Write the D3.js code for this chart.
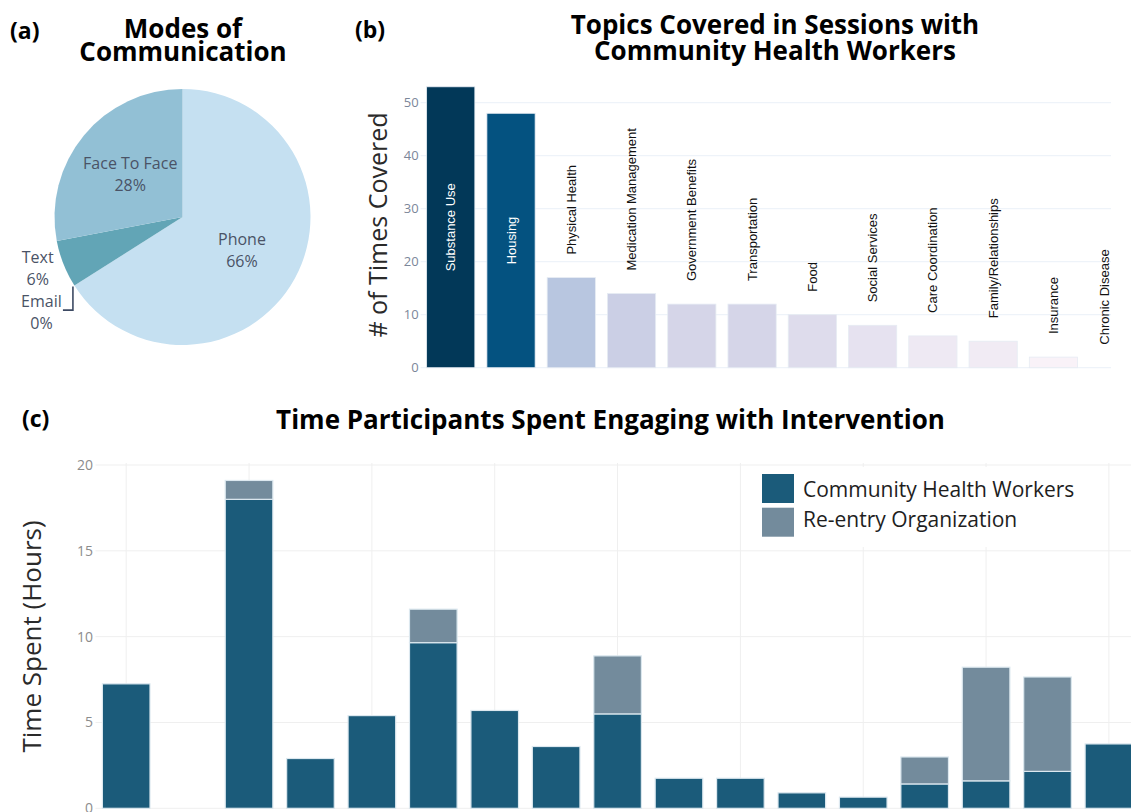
<!DOCTYPE html>
<html><head><meta charset="utf-8">
<script src="https://cdn.jsdelivr.net/npm/d3@7"></script>
<style>html,body{margin:0;padding:0;background:#fff;} svg{display:block;font-family:"Open Sans",sans-serif;}</style>
</head><body><svg id="chart" width="1131" height="812"></svg>
<script>
// ---------- DATA ----------
const pieLabels = ["Phone", "Email", "Text", "Face To Face"];
const pieValues = [66, 0, 6, 28];

const topics = ["Substance Use", "Housing", "Physical Health", "Medication Management",
  "Government Benefits", "Transportation", "Food", "Social Services", "Care Coordination",
  "Family/Relationships", "Insurance", "Chronic Disease"];
const topicCounts = [53, 48, 17, 14, 12, 12, 10, 8, 6, 5, 2, 0];
const topicTicks = [0, 10, 20, 30, 40, 50];

const participants = ["1","2","3","4","5","6","7","8","9","10","11","12","13","14","15","16","17"];
const chwHours =     [7.25, 0, 18, 2.9, 5.4, 9.65, 5.7, 3.6, 5.5, 1.75, 1.75, 0.9, 0.65, 1.42, 1.6, 2.15, 3.75];
const reentryHours = [0, 0, 1.1, 0, 0, 1.95, 0, 0, 3.38, 0, 0, 0, 0, 1.57, 6.62, 5.5, 0];
const seriesNames = ["Community Health Workers", "Re-entry Organization"];
const hourTicks = [0, 5, 10, 15, 20];

// ---------- STYLE ----------
const pieColors = ["#c5e0f1", "#5f9fb0", "#62a5b6", "#92c0d5"];
const pubuStops = ["#fff7fb","#ece7f2","#d0d1e6","#a6bddb","#74a9cf","#3690c0","#0570b0","#045a8d","#023858"];
const seriesColors = ["#1b5b7a", "#738b9c"];

const svg = d3.select("#chart");
svg.append("rect").attr("width", 1131).attr("height", 812).attr("fill", "#fff");

function panelLabel(t, x, y) {
  svg.append("text").attr("x", x).attr("y", y).attr("font-size", 23).attr("font-weight", 700)
    .attr("fill", "#000").text(t);
}
function title(lines, cx, y0, lh, fs) {
  lines.forEach((l, i) => svg.append("text").attr("text-anchor", "middle").attr("font-size", fs)
    .attr("font-weight", 700).attr("fill", "#000").attr("x", cx).attr("y", y0 + i * lh).text(l));
}

// ---------- PANEL A: PIE ----------
panelLabel("(a)", 10, 39);
title(["Modes of", "Communication"], 183, 37.5, 23.5, 26);
const cx = 182.5, cy = 217, R = 128;
const pieData = pieLabels.map((l, i) => ({ label: l, v: pieValues[i], c: pieColors[i] }));
const arcs = d3.pie().sort(null).value(d => d.v)(pieData);
const arcGen = d3.arc().innerRadius(0).outerRadius(R);
const gA = svg.append("g").attr("transform", `translate(${cx},${cy})`);
gA.selectAll("path").data(arcs).join("path").attr("d", arcGen).attr("fill", d => d.data.c);

const labColor = "#4a5366";
function twoLine(g, x, y, a, b) {
  const t = g.append("text").attr("text-anchor", "middle").attr("font-size", 16).attr("fill", labColor);
  t.append("tspan").attr("x", x).attr("y", y - 11 + 6).text(a);
  t.append("tspan").attr("x", x).attr("y", y + 11 + 6).text(b);
}
const polar = (r, a) => [r * Math.sin(a), -r * Math.cos(a)];
arcs.forEach(d => {
  const mid = (d.startAngle + d.endAngle) / 2;
  const pct = d.data.v + "%";
  if (d.data.v >= 20) {
    const [x, y] = polar(R * 0.53, mid);
    twoLine(gA, x, y, d.data.label, pct);
  } else if (d.data.v > 0) {
    const [x, y] = polar(R * 1.2, mid);
    twoLine(gA, x - 2, y - 6, d.data.label, pct);
  } else {
    const [ax, ay] = polar(R, d.startAngle);
    twoLine(gA, ax - 33, ay + 26, d.data.label, pct);
    gA.append("path")
      .attr("d", `M${ax - 1.5},${ay + 1} V${ay + 24.5} H${ax - 11.5}`)
      .attr("fill", "none").attr("stroke", "#3d4a63").attr("stroke-width", 1.6);
  }
});

// ---------- PANEL B: TOPICS ----------
panelLabel("(b)", 355, 38);
title(["Topics Covered in Sessions with", "Community Health Workers"], 775, 33.5, 26, 26);
const bLeft = 420.6, bRight = 1111;
const xb = d3.scaleBand().domain(topics).range([bLeft, bLeft + 12 * 60.27]).paddingInner(0.2).paddingOuter(0.1);
const yb = d3.scaleLinear().domain([0, 55]).range([367.7, 76.2]);
const colorB = d3.scaleLinear()
  .domain(pubuStops.map((_, i) => i / (pubuStops.length - 1) * d3.max(topicCounts)))
  .range(pubuStops).interpolate(d3.interpolateRgb);
const gB = svg.append("g");
gB.selectAll("line.grid").data(topicTicks).join("line")
  .attr("x1", bLeft).attr("x2", bRight).attr("y1", d => yb(d)).attr("y2", d => yb(d))
  .attr("stroke", "#ebf0f8").attr("stroke-width", 1);
gB.selectAll("text.tick").data(topicTicks).join("text")
  .attr("x", bLeft - 2).attr("y", d => yb(d) + 4.5).attr("text-anchor", "end")
  .attr("font-size", 13).attr("fill", "#7b8699").text(d => d);
const topicData = topics.map((t, i) => ({ t, v: topicCounts[i] }));
gB.selectAll("rect").data(topicData).join("rect")
  .attr("x", d => xb(d.t)).attr("width", xb.bandwidth())
  .attr("y", d => yb(d.v)).attr("height", d => yb(0) - yb(d.v))
  .attr("fill", d => colorB(d.v)).attr("stroke", "#e6ecf3").attr("stroke-width", 0.8);
topicData.forEach(d => {
  const c = Math.min(xb(d.t) + xb.bandwidth() / 2, bRight - 7);
  const t = gB.append("text").attr("font-family", "'Liberation Sans', Arial, sans-serif")
    .attr("font-size", 13).attr("dominant-baseline", "central").text(d.t);
  const len = t.node().getComputedTextLength();
  const h = yb(0) - yb(d.v);
  if (h > 2 * len + 10) {
    t.attr("text-anchor", "middle").attr("fill", "#fff")
      .attr("transform", `translate(${c},${(yb(0) + yb(d.v)) / 2}) rotate(-90)`);
  } else {
    t.attr("text-anchor", "start").attr("fill", "#111")
      .attr("transform", `translate(${c},${yb(d.v) - 23}) rotate(-90)`);
  }
});
svg.append("text").attr("transform", "translate(387,225) rotate(-90)").attr("text-anchor", "middle")
  .attr("font-size", 25).attr("fill", "#2a2a2a").text("# of Times Covered");

// ---------- PANEL C: TIME ----------
panelLabel("(c)", 22, 427);
title(["Time Participants Spent Engaging with Intervention"], 610.5, 429, 0, 26);
const step = 61.42, c0 = 126.2;
const xc = d3.scaleBand().domain(participants).range([c0 - step / 2, c0 + (participants.length - 0.5) * step])
  .paddingInner(0.225).paddingOuter(0.1125);
const yc = d3.scaleLinear().domain([0, 20]).range([808.3, 465]);
const cLeft = c0 - step / 2;
const gC = svg.append("g");
gC.selectAll("line.h").data(hourTicks).join("line")
  .attr("x1", cLeft).attr("x2", 1131).attr("y1", d => yc(d)).attr("y2", d => yc(d))
  .attr("stroke", "#efefef");
gC.selectAll("line.v").data(participants.filter((_, i) => i % 2 === 0)).join("line")
  .attr("x1", d => xc(d) + xc.bandwidth() / 2).attr("x2", d => xc(d) + xc.bandwidth() / 2)
  .attr("y1", yc(20) - 2).attr("y2", yc(0)).attr("stroke", "#efefef");
gC.selectAll("text.tick").data(hourTicks).join("text")
  .attr("x", 93).attr("y", d => yc(d) + 5).attr("text-anchor", "end")
  .attr("font-size", 14).attr("fill", "#8c8c8c").text(d => d);

const rows = participants.map((p, i) => ({ p, chw: chwHours[i], re: reentryHours[i] }));
const stacked = d3.stack().keys(["chw", "re"])(rows);
stacked.forEach((s, si) => {
  gC.selectAll("rect.s" + si).data(s.filter(d => d[1] - d[0] > 0)).join("rect")
    .attr("x", d => xc(d.data.p)).attr("width", xc.bandwidth())
    .attr("y", d => yc(d[1])).attr("height", d => yc(d[0]) - yc(d[1]))
    .attr("fill", seriesColors[si]).attr("stroke", "#dce8ef").attr("stroke-width", 1.2);
});

// legend
svg.append("rect").attr("x", 750).attr("y", 467).attr("width", 345).attr("height", 80).attr("fill", "#fff");
seriesNames.forEach((n, i) => {
  svg.append("rect").attr("x", 762).attr("y", 474 + i * 33.7).attr("width", 32).attr("height", 29)
    .attr("fill", seriesColors[i]);
  svg.append("text").attr("x", 803).attr("y", 497 + i * 30).attr("font-size", 21)
    .attr("fill", "#1e1e1e").text(n);
});
svg.append("text").attr("transform", "translate(41,636.5) rotate(-90)").attr("text-anchor", "middle")
  .attr("font-size", 26).attr("fill", "#2a2a2a").text("Time Spent (Hours)");
</script></body></html>
